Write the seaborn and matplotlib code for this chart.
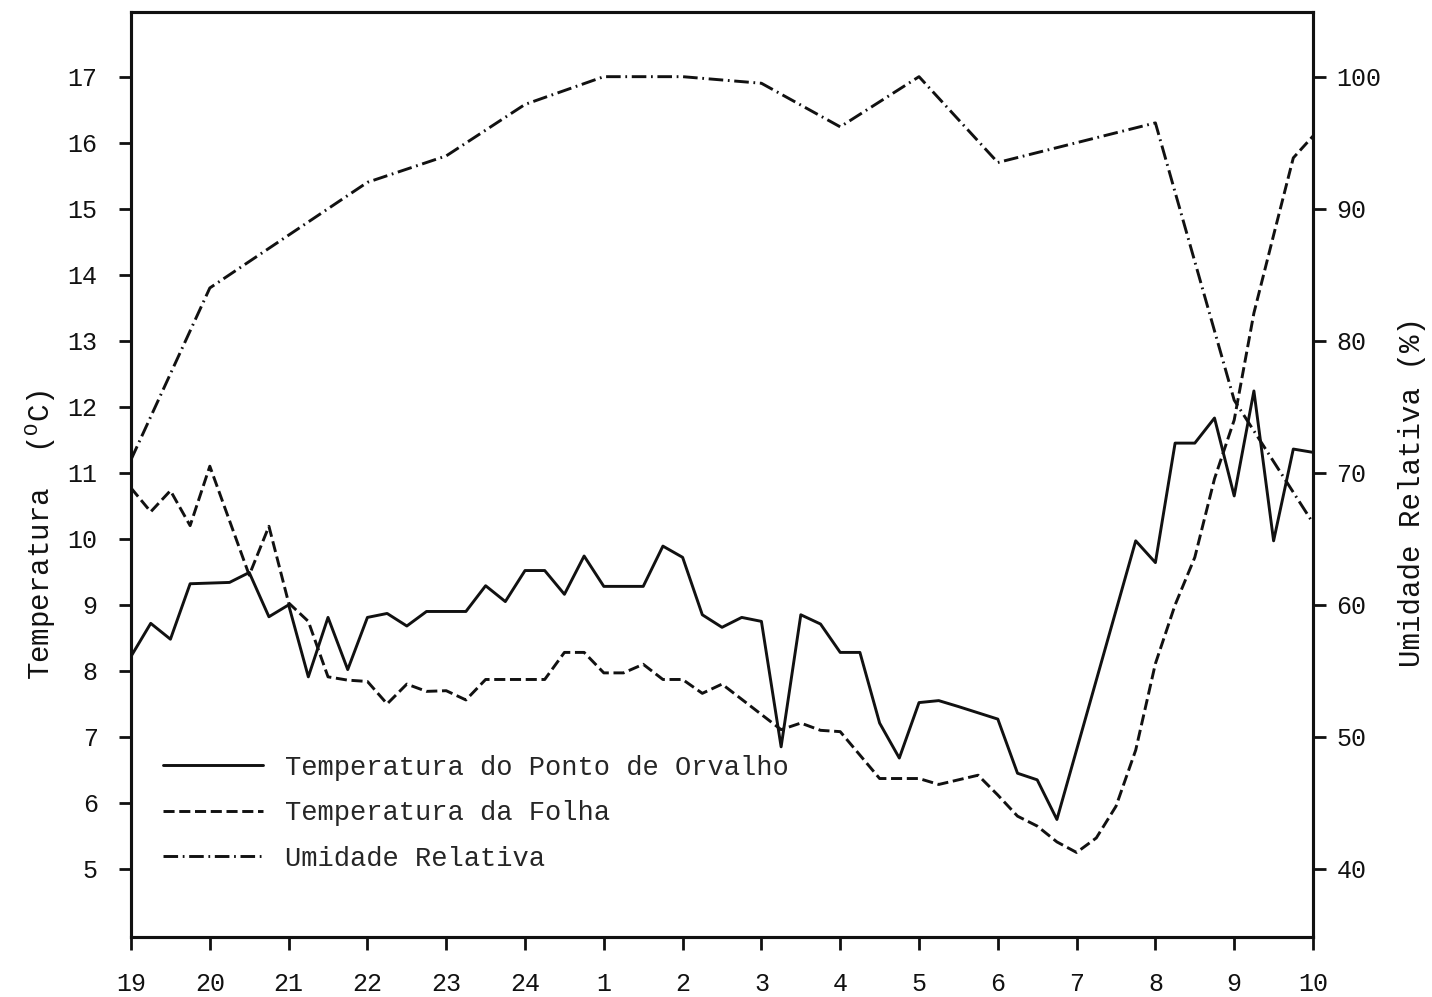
import matplotlib
matplotlib.use("Agg")
import matplotlib.pyplot as plt
import seaborn as sns

# hours elapsed since 19:00
hour_ticks = list(range(16))
hour_labels = ['19', '20', '21', '22', '23', '24', '1', '2', '3', '4',
               '5', '6', '7', '8', '9', '10']

# Temperatura do Ponto de Orvalho (C)
t_orvalho = [0.00, 0.25, 0.50, 0.75, 1.00, 1.25, 1.50, 1.75, 2.00, 2.25,
             2.50, 2.75, 3.00, 3.25, 3.50, 3.75, 4.00, 4.25, 4.50, 4.75,
             5.00, 5.25, 5.50, 5.75, 6.00, 6.25, 6.50, 6.75, 7.00, 7.25,
             7.50, 7.75, 8.00, 8.25, 8.50, 8.75, 9.00, 9.25, 9.50, 9.75,
             10.00, 10.25, 10.50, 11.00, 11.25, 11.50, 11.75, 12.75, 13.00,
             13.25, 13.50, 13.75, 14.00, 14.25, 14.50, 14.75, 15.00]
orvalho = [8.22, 8.72, 8.48, 9.32, 9.33, 9.34, 9.49, 8.82, 9.00, 7.91,
           8.81, 8.02, 8.81, 8.87, 8.68, 8.90, 8.90, 8.90, 9.29, 9.05,
           9.52, 9.52, 9.16, 9.74, 9.28, 9.28, 9.28, 9.89, 9.72, 8.85,
           8.66, 8.81, 8.75, 6.85, 8.85, 8.71, 8.28, 8.28, 7.21, 6.68,
           7.52, 7.55, 7.46, 7.27, 6.45, 6.35, 5.75, 9.97, 9.64,
           11.45, 11.45, 11.83, 10.65, 12.24, 9.97, 11.36, 11.31]

# Temperatura da Folha (C)
t_folha = [0.00, 0.25, 0.50, 0.75, 1.00, 1.50, 1.75, 2.00, 2.25, 2.50,
           2.75, 3.00, 3.25, 3.50, 3.75, 4.00, 4.25, 4.50, 4.75, 5.00,
           5.25, 5.50, 5.75, 6.00, 6.25, 6.50, 6.75, 7.00, 7.25, 7.50,
           8.25, 8.50, 8.75, 9.00, 9.50, 10.00, 10.25, 10.75, 11.00, 11.25,
           11.50, 11.75, 12.00, 12.25, 12.50, 12.75, 13.00, 13.25, 13.50,
           13.75, 14.00, 14.25, 14.50, 14.75, 15.00]
folha = [10.77, 10.41, 10.73, 10.20, 11.10, 9.45, 10.19, 9.03, 8.75, 7.91,
         7.86, 7.84, 7.50, 7.80, 7.69, 7.70, 7.56, 7.87, 7.87, 7.87,
         7.87, 8.28, 8.28, 7.97, 7.97, 8.10, 7.87, 7.87, 7.66, 7.80,
         7.11, 7.21, 7.10, 7.08, 6.37, 6.37, 6.28, 6.42, 6.12, 5.80,
         5.65, 5.41, 5.25, 5.47, 5.95, 6.80, 8.11, 9.00, 9.72,
         10.91, 11.80, 13.42, 14.60, 15.77, 16.10]

# Umidade Relativa (%)
t_umidade = [0, 1, 3, 4, 5, 6, 7, 8, 9, 10, 11, 13, 14, 15]
umidade = [71.0, 84.0, 92.0, 94.0, 97.9, 100.0, 100.0, 99.5, 96.2, 100.0,
           93.5, 96.5, 75.5, 66.2]

sns.set_style("ticks")
plt.rcParams['font.family'] = ['Liberation Mono', 'DejaVu Sans Mono']
plt.rcParams['mathtext.fontset'] = 'custom'
plt.rcParams['mathtext.rm'] = 'Liberation Mono'

ink = '#111111'
fig = plt.figure(figsize=(14.32, 9.97), dpi=100)
ax = fig.add_axes([0.0915, 0.0602, 0.8254, 0.9278])
ax2 = ax.twinx()

sns.lineplot(x=t_orvalho, y=orvalho, ax=ax, color=ink, linewidth=2.1,
             label='Temperatura do Ponto de Orvalho')
sns.lineplot(x=t_folha, y=folha, ax=ax, color=ink, linewidth=2.1,
             dashes=False, label='Temperatura da Folha')
ax.lines[-1].set_dashes([3.8, 1.6])
sns.lineplot(x=t_umidade, y=umidade, ax=ax2, color=ink, linewidth=2.1,
             label='Umidade Relativa')
ax2.lines[-1].set_dashes([5, 1.6, 0.6, 1.6])

for a in (ax, ax2):
    if a.get_legend() is not None:
        a.get_legend().remove()

ax.set_xlim(0, 15)
ax.set_ylim(3.97, 17.98)
ax2.set_ylim(34.85, 104.9)

ax.set_xticks(hour_ticks)
ax.set_xticklabels(hour_labels)
ax.set_yticks(range(5, 18))
ax2.set_yticks(range(40, 101, 10))

ax.tick_params(axis='x', direction='out', length=9, width=2, pad=16,
               labelsize=18, colors=ink)
ax.tick_params(axis='y', direction='out', length=9, width=2, pad=15,
               labelsize=18, colors=ink)
ax2.tick_params(axis='y', direction='out', length=9, width=2, pad=8,
                labelsize=18, colors=ink)

for a in (ax, ax2):
    for s in a.spines.values():
        s.set_visible(True)
        s.set_linewidth(2.2)
        s.set_color(ink)

ax.set_xlabel('')
ax.set_ylabel(r'Temperatura  ($^{\mathrm{O}}$C)', fontsize=21, color=ink)
ax.yaxis.set_label_coords(-0.062, 0.435)
ax2.set_ylabel('Umidade Relativa (%)', fontsize=21, color=ink)
ax2.yaxis.set_label_coords(1.072, 0.481)

h1, l1 = ax.get_legend_handles_labels()
h2, l2 = ax2.get_legend_handles_labels()
ax2.legend(h1 + h2, l1 + l2, loc='center left', bbox_to_anchor=(0.027, 0.134),
           frameon=False, fontsize=19.5, handlelength=3.7, handletextpad=0.8,
           labelspacing=0.72, borderpad=0, borderaxespad=0)

fig.savefig('out.png', dpi=100, facecolor='white')
